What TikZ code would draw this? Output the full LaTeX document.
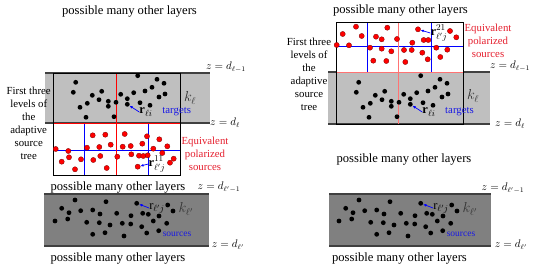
\documentclass[tikz,border=0pt]{standalone}
\usepackage{fontspec}
\setmainfont{Liberation Serif}
\usepackage{amsmath}
\usetikzlibrary{arrows.meta}
\definecolor{eqred}{rgb}{0.9,0.12,0.18}
\definecolor{lblblue}{rgb}{0.1,0.1,0.9}
\newcommand{\tgtdots}{75.7/82.3, 73.3/92.3, 80/107.3, 86/117.3, 87.3/103.3, 92.3/95.3, 99/99.7, 101.7/91.3, 108.3/101.3, 108.3/106.3, 114/116.7, 116/102.3, 120.7/94.3, 127.3/98.7, 133.7/92.7, 137.7/75.7, 140/102.7, 145/91, 150/105.3, 152/87.3, 157/79.3, 159/97, 164/83.3, 165/94}
\newcommand{\srcdotsL}{55.7/149, 68.3/151, 61.7/161.7, 69/157.3, 75/169.3, 81/159.3, 87/147.7, 92.7/135.3, 93.3/160, 99.3/147, 100.3/156, 105.3/134.7, 106.7/168, 110.7/144.7, 117.3/156.7, 122.7/146.7, 124.7/134, 130.7/146, 131.3/154.3, 139/155.7, 142.3/143.7, 143.3/156, 147/136.3, 147.7/155.3, 153.3/148.7, 159.3/139.3, 162.3/153, 167.3/146.3, 170/162.7, 173.7/158.7}
\newcommand{\srcdotsR}{356/26.7, 387.3/27.7, 342.7/34, 361.7/36, 376/36.7, 381.7/39.3, 397/39, 450/31, 456.3/37.3, 336.7/45, 349/45.3, 370/47.7, 381.7/48.7, 391.3/51.3, 404/50, 411.7/50, 412.3/42.7, 423.7/40, 428.3/40, 436.3/47.7, 447.3/49.7, 422.3/52.7, 427.7/59.3, 373.3/60.7, 386.3/61, 405.3/62, 440.3/57}
\newcommand{\botdots}{75/200, 106/201.7, 61.7/208.3, 69/212.7, 80.7/210.7, 92.7/210, 100/214, 116.7/213.3, 131/215.7, 142.7/213.3, 148.3/214.3, 167.7/205, 173/211, 55/221, 67.7/219, 86.7/222.3, 99.3/222.7, 110/225, 122.3/223.3, 130.7/224, 141.7/226.7, 153.3/221, 159/216, 166.7/223.3, 92.7/234.3, 105/232.7, 124/236, 146.7/233, 158.7/230.7}
\tikzset{
  lyrlt/.style={fill=black!25},
  lyrdk/.style={fill=black!50},
  bnd/.style={draw=black!75, line width=1.3pt},
  treebox/.style={draw=black, line width=0.8pt},
  lvltwo/.style={draw=red, line width=0.9pt},
  lvlthree/.style={draw=blue, line width=0.8pt},
  tgt/.style={circle, fill=black, inner sep=0pt, minimum size=4.8pt},
  src/.style={circle, fill=red, draw=red!45!black, line width=0.3pt, inner sep=0pt, minimum size=5.2pt},
  lbl/.style={font=\fontsize{10.8}{13}\selectfont, align=center, inner sep=0pt},
  other/.style={font=\fontsize{12.6}{14}\selectfont, inner sep=0pt},
  zlbl/.style={font=\fontsize{10.5}{12}\selectfont, inner sep=0pt},
  rlbl/.style={font=\fontsize{12.5}{14}\selectfont, inner sep=0pt},
  klbl/.style={font=\fontsize{14}{15}\selectfont, text=black!80, inner sep=0pt},
  ptr/.style={-{Latex[length=3.2pt,width=2.8pt]}, draw=blue, line width=0.7pt},
}
\begin{document}
\begin{tikzpicture}[x=1pt,y=-1pt]
\useasboundingbox (0,0) rectangle (537,273);
% layers
\fill[lyrlt] (45,73) rectangle (210,123);
\fill[lyrlt] (328,72) rectangle (490,124);
\fill[lyrdk] (44,194) rectangle (209,246);
\fill[lyrdk] (329,194) rectangle (491,246);
\draw[bnd] (45,73) -- (210,73) (45,123) -- (210,123);
\draw[bnd] (328,72) -- (490,72) (328,124) -- (490,124);
\draw[bnd] (44,194) -- (209,194) (44,246) -- (209,246);
\draw[bnd] (329,194) -- (491,194) (329,246) -- (491,246);
% left tree
\fill[white] (53,123) rectangle (180,175);
\draw[lvlthree] (84,123) -- (84,175) (148,123) -- (148,175) (53,150) -- (180,150);
\draw[lvltwo] (116,73) -- (116,175) (53,123) -- (180,123);
\draw[treebox] (53,73) rectangle (180,175);
% right tree
\fill[white] (336,22) rectangle (463,72);
\draw[lvlthree] (367,22) -- (367,72) (431,22) -- (431,72) (336,46) -- (463,46);
\draw[lvltwo, draw=red!55] (398,22) -- (398,124) (336,72) -- (463,72);
\draw[treebox] (336,22) rectangle (463,124);
% dots
\foreach \x/\y [count=\i] in \tgtdots {
  \node[tgt] (tl\i) at (\x,\y) {};
  \node[tgt] (tr\i) at (\x+283,\y) {};
}
\node[tgt] (tlA) at (127.3,104.3) {};
\node[tgt] (trA) at (410.3,104.3) {};
\foreach \x/\y [count=\i] in \srcdotsL \node[src] (sl\i) at (\x,\y) {};
\node[src] (slA) at (137.7,166.7) {};
\foreach \x/\y [count=\i] in \srcdotsR \node[src] (sr\i) at (\x,\y) {};
\node[src] (srA) at (418,29.3) {};
\foreach \x/\y [count=\i] in \botdots {
  \node[tgt] (bl\i) at (\x,\y) {};
  \node[tgt] (br\i) at (\x+284,\y) {};
}
\node[tgt] (blA) at (136.7,203.3) {};
\node[tgt] (brA) at (420.7,203.3) {};
% texts
\node[other] (pmoA) at (129.5,11) {possible many other layers};
\node[other] (pmoB) at (400.5,10) {possible many other layers};
\node[other] (pmoC) at (118,187.5) {possible many other layers};
\node[other] (pmoD) at (404,159) {possible many other layers};
\node[other] (pmoE) at (118,258) {possible many other layers};
\node[other] (pmoF) at (399.5,258) {possible many other layers};
\node[lbl] (fstL) at (28.7,123.5) {First three\\levels of\\the\\adaptive\\source\\tree};
\node[lbl] (fstR) at (309,74) {First three\\levels of\\the\\adaptive\\source\\tree};
\node[lbl, text=eqred] (eqL) at (205,154) {Equivalent\\polarized\\sources};
\node[lbl, text=eqred] (eqR) at (488,41) {Equivalent\\polarized\\sources};
\node[lbl, text=lblblue] (tgL) at (176.7,112) {targets};
\node[lbl, text=lblblue] (tgR) at (459.5,112) {targets};
\node[lbl, text=lblblue, font=\fontsize{9.5}{11}\selectfont] (soL) at (177,234) {sources};
\node[lbl, text=lblblue, font=\fontsize{9.5}{11}\selectfont] (soR) at (461,234) {sources};
\node[klbl] (kL) at (190,98) {$k_\ell$};
\node[klbl] (kR) at (473,96) {$k_\ell$};
\node[klbl] (kbL) at (186,209) {$k_{\ell'}$};
\node[klbl] (kbR) at (470,209) {$k_{\ell'}$};
\node[rlbl] (rL) at (146,112) {$\mathbf{r}_{\ell i}$};
\node[rlbl] (rR) at (429,112) {$\mathbf{r}_{\ell i}$};
\node[rlbl] (r11) at (157,164) {$\mathbf{r}^{11}_{\ell' j}$};
\node[rlbl] (r21) at (439,33) {$\mathbf{r}^{21}_{\ell' j}$};
\node[rlbl] (rbL) at (157,208) {$\mathrm{r}_{\ell' j}$};
\node[rlbl] (rbR) at (441,208) {$\mathrm{r}_{\ell' j}$};
\node[zlbl] (zA) at (226,67) {$z=d_{\ell-1}$};
\node[zlbl] (zB) at (225,123) {$z=d_\ell$};
\node[zlbl] (zC) at (219,187) {$z=d_{\ell'-1}$};
\node[zlbl] (zD) at (228,245) {$z=d_{\ell'}$};
\node[zlbl] (zE) at (510,66) {$z=d_{\ell-1}$};
\node[zlbl] (zF) at (510,124) {$z=d_\ell$};
\node[zlbl] (zG) at (503,188) {$z=d_{\ell'-1}$};
\node[zlbl] (zH) at (511,245) {$z=d_{\ell'}$};
% pointers
\draw[ptr] (rL.west) -- (tlA);
\draw[ptr] (rR.west) -- (trA);
\draw[ptr] (r11.west) -- (slA);
\draw[ptr] (r21.west) -- (srA);
\draw[ptr] (rbL.west) -- (blA);
\draw[ptr] (rbR.west) -- (brA);
\end{tikzpicture}
\end{document}
